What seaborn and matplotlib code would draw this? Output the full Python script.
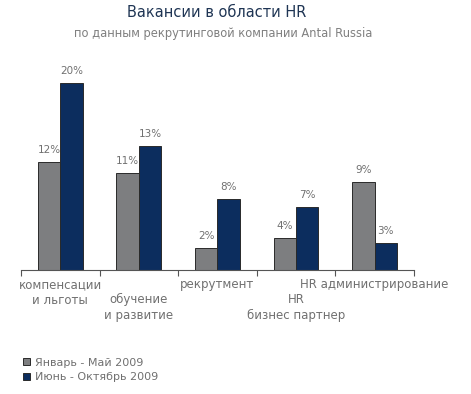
import matplotlib
matplotlib.use("Agg")
import matplotlib.pyplot as plt
import matplotlib.patches as mpatches
import matplotlib.transforms as mtransforms
import pandas as pd
import seaborn as sns

categories = ["компенсации\nи льготы", "обучение\nи развитие", "рекрутмент",
              "HR\nбизнес партнер", "HR администрирование"]
series = ["Январь - Май 2009", "Июнь - Октябрь 2009"]
jan_may = [11.6, 10.4, 2.4, 3.4, 9.4]
jun_oct = [20.0, 13.3, 7.6, 6.7, 2.9]
jan_may_labels = ["12%", "11%", "2%", "4%", "9%"]
jun_oct_labels = ["20%", "13%", "8%", "7%", "3%"]
shifted = [1, 3]  # labels that start one line lower

colors = ["#7d7e80", "#0c2d5e"]
text_grey = "#707070"

df = pd.DataFrame({
    "cat": categories * 2,
    "series": [series[0]] * 5 + [series[1]] * 5,
    "value": jan_may + jun_oct,
})

sns.set_style("white")
plt.rcParams['font.family'] = ['DejaVu Sans']

fig = plt.figure(figsize=(4.71, 3.94), dpi=100)
ax = fig.add_axes([0.0446, 0.315, 0.834, 0.535])

sns.barplot(data=df, x="cat", y="value", hue="series", palette=colors,
            saturation=1, width=0.57, edgecolor="#2a2a2a", linewidth=0.7,
            legend=False, ax=ax)

ax.set_xlim(-0.5, 4.5)
ax.set_ylim(0, 22.6)
ax.set_xlabel("")
ax.set_ylabel("")
ax.set_yticks([])
for s in ["top", "right", "left"]:
    ax.spines[s].set_visible(False)
ax.spines["bottom"].set_color("#555555")
ax.spines["bottom"].set_linewidth(0.8)

ax.set_xticks(range(5))
ax.set_xticklabels(categories, fontsize=8.5, color=text_grey, linespacing=1.25)
ax.tick_params(axis="x", which="major", length=0, pad=6)
ax.set_xticks([i - 0.5 for i in range(6)], minor=True)
ax.tick_params(axis="x", which="minor", length=4, width=0.8, color="#555555",
               direction="out", bottom=True)

# push the 2nd and 4th labels down one line
offset = mtransforms.ScaledTranslation(0, -15 / 100, fig.dpi_scale_trans)
for i, lab in enumerate(ax.get_xticklabels()):
    if i in shifted:
        lab.set_transform(lab.get_transform() + offset)

# value labels
bw = 0.57 / 2
for i in range(5):
    ax.text(i - bw / 2, jan_may[i] + 0.75, jan_may_labels[i], ha="center", va="bottom",
            fontsize=7.5, color=text_grey)
    ax.text(i + bw / 2, jun_oct[i] + 0.75, jun_oct_labels[i], ha="center", va="bottom",
            fontsize=7.5, color=text_grey)

fig.text(0.459, 0.968, "Вакансии в области HR", ha="center", va="center",
         fontsize=10.5, color="#1f3554")
fig.text(0.474, 0.916, "по данным рекрутинговой компании Antal Russia", ha="center",
         va="center", fontsize=8.3, color="#808080")

handles = [mpatches.Patch(facecolor=c, edgecolor="#2a2a2a", linewidth=0.7) for c in colors]
fig.legend(handles, series, loc="upper left", bbox_to_anchor=(0.038, 0.106),
           frameon=False, fontsize=8, labelcolor=text_grey, handlelength=0.6,
           handleheight=0.6, handletextpad=0.45, labelspacing=0.4, borderpad=0)

fig.savefig("out.png", dpi=100)
